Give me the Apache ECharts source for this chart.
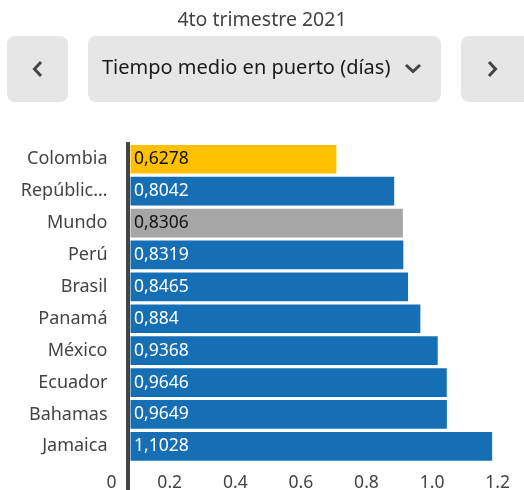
<!DOCTYPE html>
<html>
<head>
<meta charset="utf-8">
<script src="https://cdn.jsdelivr.net/npm/echarts@6/dist/echarts.min.js"></script>
<style>
  html, body { margin: 0; padding: 0; background: #fff; }
  #main { width: 524px; height: 490px; }
</style>
</head>
<body>
<div id="main"></div>
<script>
  // datos
  var periodo = '4to trimestre 2021';
  var indicador = 'Tiempo medio en puerto (días)';
  var paises = ['Colombia', 'República Dominicana', 'Mundo', 'Perú', 'Brasil', 'Panamá', 'México', 'Ecuador', 'Bahamas', 'Jamaica'];
  var valores = [0.6278, 0.8042, 0.8306, 0.8319, 0.8465, 0.884, 0.9368, 0.9646, 0.9649, 1.1028];
  var ticks = [0, 0.2, 0.4, 0.6, 0.8, 1.0, 1.2];

  // colores
  var azul = '#166FB5';
  var resaltados = { 'Colombia': '#FFC000', 'Mundo': '#A6A6A6' };
  var fuente = 'Noto Sans';

  var myChart = echarts.init(document.getElementById('main'));

  var datos = paises.map(function (p, i) {
    var c = resaltados[p];
    return {
      value: valores[i],
      itemStyle: { color: c || azul },
      label: { color: c ? '#111' : '#fff' }
    };
  });

  var option = {
    animation: false,
    title: {
      text: periodo,
      left: 'center',
      top: 5,
      textStyle: { fontFamily: fuente, fontSize: 19.5, fontWeight: 'normal', color: '#444' }
    },
    graphic: [
      { type: 'rect', shape: { x: 7, y: 36, width: 61, height: 66, r: 8 }, style: { fill: '#E6E6E6' } },
      { type: 'rect', shape: { x: 88, y: 36, width: 353, height: 66, r: 8 }, style: { fill: '#E6E6E6' } },
      { type: 'rect', shape: { x: 461, y: 36, width: 72, height: 66, r: 8 }, style: { fill: '#E6E6E6' } },
      { type: 'text', x: 102, y: 68.5, style: { text: indicador, fontFamily: fuente, fontSize: 20, fill: '#1a1a1a', verticalAlign: 'middle' } },
      { type: 'polyline', shape: { points: [[41, 62], [34.5, 69], [41, 76]] }, style: { stroke: '#444', lineWidth: 3, fill: null } },
      { type: 'polyline', shape: { points: [[406, 65], [413, 71.5], [420, 65]] }, style: { stroke: '#444', lineWidth: 3, fill: null } },
      { type: 'polyline', shape: { points: [[489, 62], [495.5, 69], [489, 76]] }, style: { stroke: '#444', lineWidth: 3, fill: null } },
      // linea del eje vertical
      { type: 'rect', z: 10, shape: { x: 126, y: 142, width: 4, height: 348 }, style: { fill: '#444' } }
    ],
    grid: { left: 130.5, right: 0, top: 143.3, bottom: 27.7, containLabel: false, outerBoundsMode: 'none' },
    xAxis: {
      type: 'value',
      min: 0,
      max: 1.2,
      interval: 0.2,
      splitLine: { show: false },
      axisLine: { show: false },
      axisTick: { show: false },
      axisLabel: {
        color: '#444',
        fontFamily: fuente,
        fontSize: 17.5,
        align: 'right',
        margin: 12,
        padding: [0, 14, 0, 0],
        formatter: function (v) { return ticks.indexOf(v) >= 0 ? (v === 0 ? '0' : v.toFixed(1)) : ''; }
      }
    },
    yAxis: {
      type: 'category',
      inverse: true,
      data: paises,
      axisLine: { show: false },
      axisTick: { show: false },
      axisLabel: {
        color: '#444',
        fontFamily: fuente,
        fontSize: 18,
        margin: 23,
        width: 92,
        overflow: 'truncate',
        ellipsis: '…'
      }
    },
    series: [
      {
        type: 'bar',
        data: datos,
        barCategoryGap: '10%',
        label: {
          show: true,
          position: 'insideLeft',
          distance: 3.5,
          fontFamily: fuente,
          fontSize: 17.5,
          formatter: function (p) { return String(p.value).replace('.', ','); }
        }
      }
    ]
  };

  myChart.setOption(option);
</script>
</body>
</html>
